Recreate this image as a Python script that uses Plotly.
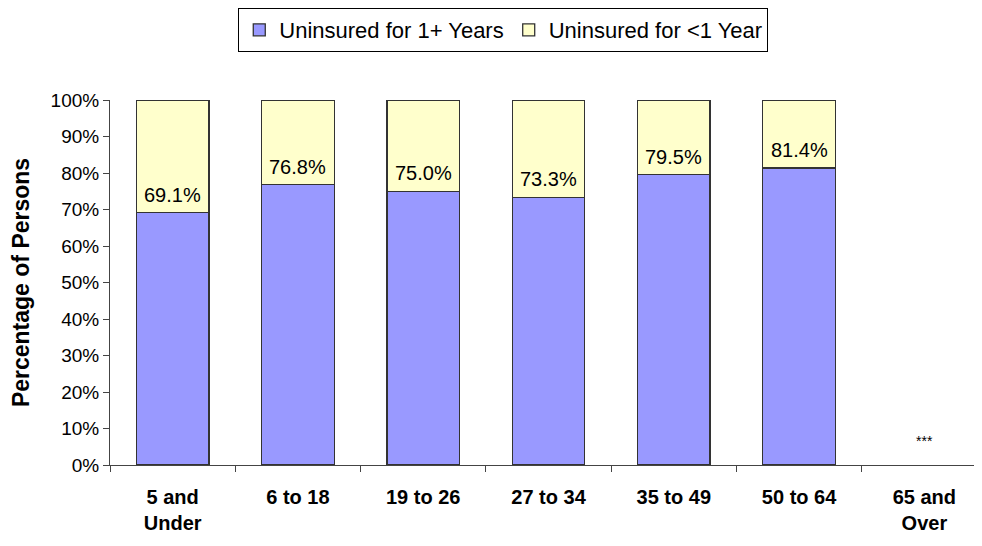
import plotly.graph_objects as go

# ========== Data ==========
age_groups = ["5 and<br>Under", "6 to 18", "19 to 26", "27 to 34", "35 to 49", "50 to 64", "65 and<br>Over"]
long_term = [69.1, 76.8, 75.0, 73.3, 79.5, 81.4, None]
short_term = [30.9, 23.2, 25.0, 26.7, 20.5, 18.6, None]
label_text = ["69.1%", "76.8%", "75.0%", "73.3%", "79.5%", "81.4%", None]

BLUE = "#9999FF"
YELLOW = "#FFFFCC"
EDGE = "#333333"
FONT = "Arial, Liberation Sans, sans-serif"

fig = go.Figure()
fig.add_trace(go.Bar(
    x=age_groups, y=long_term, name="Uninsured for 1+ Years",
    marker=dict(color=BLUE, line=dict(color=EDGE, width=1.3)),
    width=0.58,
))
fig.add_trace(go.Bar(
    x=age_groups, y=short_term, name="Uninsured for <1 Year",
    marker=dict(color=YELLOW, line=dict(color=EDGE, width=1.3)),
    width=0.58,
))

# value labels sit just above the blue segment
for cat, val, txt in zip(age_groups, long_term, label_text):
    if val is None:
        continue
    fig.add_annotation(x=cat, y=val, text=txt, showarrow=False, yanchor="bottom",
                       yshift=5, font=dict(size=20, color="black"))

# no data for 65+
fig.add_annotation(x=age_groups[-1], y=6.5, text="***", showarrow=False,
                   font=dict(size=14, color="black"))

# page body adds 8px offset, margins account for it
fig.update_layout(
    barmode="stack",
    width=982, height=546,
    margin=dict(l=102, r=8, t=92, b=89),
    plot_bgcolor="white", paper_bgcolor="white",
    font=dict(family=FONT, color="black"),
    showlegend=True,
    legend=dict(orientation="h", traceorder="normal",
                x=0.451, xref="paper", xanchor="center",
                y=1.0, yref="container", yanchor="top",
                bordercolor="black", borderwidth=1, font=dict(size=22),
                itemwidth=30),
    xaxis=dict(range=[-0.5, 6.46], showline=True, linecolor="#444", linewidth=1,
               ticks="outside", tickson="boundaries", ticklen=6, tickcolor="#444",
               tickfont=dict(size=20, family=FONT), ticklabelstandoff=14,
               showgrid=False, automargin=False),
    yaxis=dict(range=[0, 100], dtick=10, ticksuffix="%", showline=True,
               linecolor="#444", linewidth=1, ticks="outside", ticklen=6,
               tickcolor="#444", showgrid=False, zeroline=False,
               tickfont=dict(size=19), automargin=False,
               title=dict(text="<b>Percentage of Persons</b>", font=dict(size=23), standoff=18)),
)

# bold category labels
fig.update_xaxes(ticktext=[f"<b>{c}</b>" for c in age_groups], tickvals=age_groups)

fig.write_html("out.html")
